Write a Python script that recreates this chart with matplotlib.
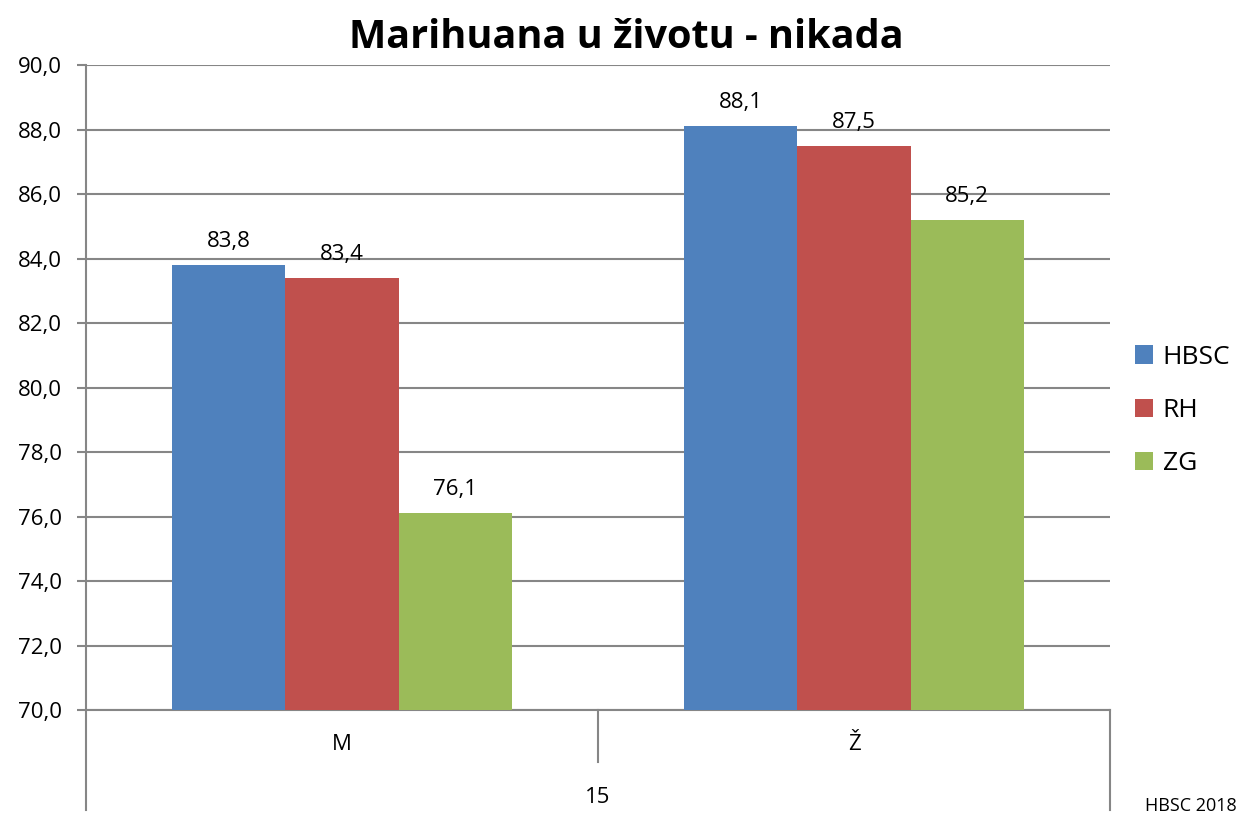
import matplotlib.pyplot as plt
from matplotlib.ticker import FuncFormatter
import numpy as np

plt.rcParams['font.family'] = ['Open Sans', 'DejaVu Sans']

groups = ["M", "Ž"]
outer_label = "15"
series = ["HBSC", "RH", "ZG"]
hbsc = [83.8, 88.1]
rh = [83.4, 87.5]
zg = [76.1, 85.2]
colors = ["#4f81bd", "#c0504d", "#9bbb59"]
yticks = [70, 72, 74, 76, 78, 80, 82, 84, 86, 88, 90]

fig = plt.figure(figsize=(12.4, 8.18), dpi=100)
ax = fig.add_axes([0.0694, 0.132, 0.8258, 0.7885])

x = np.arange(len(groups))
width = 0.221
grid_col = "#868686"

for i, (name, vals) in enumerate(zip(series, [hbsc, rh, zg])):
    pos = x + (i - 1) * width
    ax.bar(pos, [v - 70 for v in vals], width, bottom=70, color=colors[i],
           label=name, zorder=3)
    for p, v in zip(pos, vals):
        ax.text(p, v + 0.56, f"{v:.1f}".replace(".", ","), ha="center", va="baseline",
                fontsize=16)

ax.set_xlim(-0.5, 1.5)
ax.set_ylim(70, 90)
ax.set_yticks(yticks)
ax.yaxis.set_major_formatter(FuncFormatter(lambda v, _: f"{v:.1f}".replace(".", ",")))
ax.tick_params(axis="y", labelsize=16, length=6.5, color=grid_col, width=1.5, pad=11)
ax.set_xticks([])
ax.grid(axis="y", color=grid_col, linewidth=1.5, zorder=0)
for s in ["top", "right"]:
    ax.spines[s].set_visible(False)
for s in ["left", "bottom"]:
    ax.spines[s].set_color(grid_col)
    ax.spines[s].set_linewidth(1.5)

# multi-level category axis
ax.plot([0, 0], [0, -0.155], transform=ax.transAxes, color=grid_col, lw=1.5, clip_on=False)
ax.plot([1, 1], [0, -0.155], transform=ax.transAxes, color=grid_col, lw=1.5, clip_on=False)
ax.plot([0.5, 0.5], [0, -0.081], transform=ax.transAxes, color=grid_col, lw=1.5, clip_on=False)
for xi, g in zip(x, groups):
    ax.text(xi, -0.054, g, transform=ax.get_xaxis_transform(), ha="center", va="center",
            fontsize=16)
ax.text(0.5, -0.135, outer_label, transform=ax.transAxes, ha="center", va="center",
        fontsize=16)

fig.text(0.505, 0.941, "Marihuana u životu - nikada", ha="center", va="baseline",
         fontsize=28.5, fontweight="bold")

fig.legend(loc="center left", bbox_to_anchor=(0.9153, 0.498), frameon=False, fontsize=19,
           borderpad=0, borderaxespad=0,
           handlelength=0.7, handleheight=0.7, handletextpad=0.35, labelspacing=1.07)

fig.text(0.997, 0.009, "HBSC 2018", ha="right", va="baseline", fontsize=13)

fig.savefig("out.png", dpi=100)
